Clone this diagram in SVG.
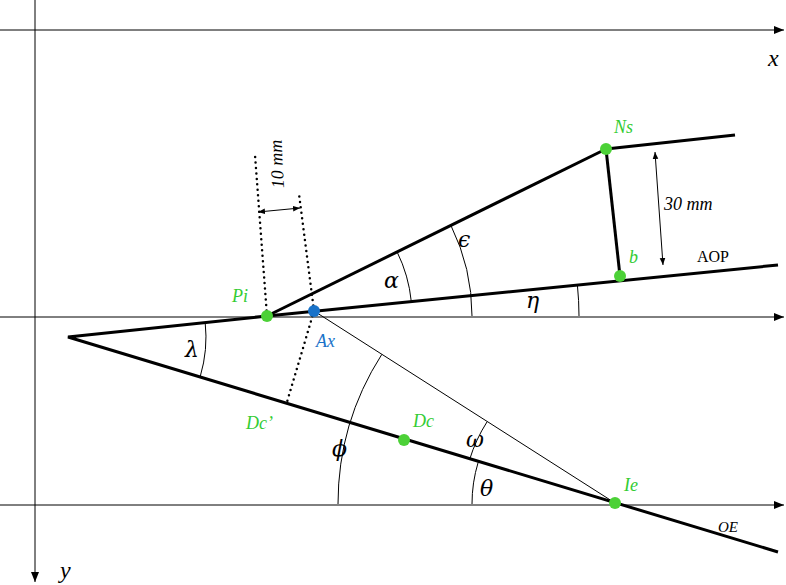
<svg xmlns="http://www.w3.org/2000/svg" width="786" height="585" viewBox="0 0 786 585">
<style>
.ax{stroke:#000;stroke-width:1;fill:none}
.th{stroke:#000;stroke-width:3;fill:none}
.tn{stroke:#000;stroke-width:1;fill:none}
.dot{stroke:#000;stroke-width:2.5;stroke-dasharray:0 5.5;stroke-linecap:round;fill:none}
.g{fill:#33cc33;font-family:'Liberation Serif',serif;font-style:italic;font-size:18px}
.gr{font-family:'DejaVu Serif',serif;font-style:italic;font-size:22px;fill:#000}
.t{font-family:'Liberation Serif',serif;font-style:italic;fill:#000}
</style>
<defs>
<marker id="ar" viewBox="0 0 10 10" refX="10" refY="5" markerWidth="10" markerHeight="10" markerUnits="userSpaceOnUse" orient="auto-start-reverse"><path d="M0,1 L10,5 L0,9 z" fill="#000"/></marker>
<marker id="sa" viewBox="0 0 10 10" refX="10" refY="5" markerWidth="7" markerHeight="7" markerUnits="userSpaceOnUse" orient="auto-start-reverse"><path d="M0,1 L10,5 L0,9 z" fill="#000"/></marker>
</defs>
<rect width="786" height="585" fill="#fff"/>
<g id="connectors">
<line class="ax" x1="0" y1="30" x2="784" y2="30" marker-end="url(#ar)"/>
<line class="ax" x1="0" y1="317" x2="784" y2="317" marker-end="url(#ar)"/>
<line class="ax" x1="0" y1="505" x2="784" y2="505" marker-end="url(#ar)"/>
<line class="ax" x1="35" y1="0" x2="35" y2="582" marker-end="url(#ar)"/>
<polyline class="th" points="267,316 68,337 778,552"/>
<line class="th" x1="267" y1="316" x2="778" y2="265"/>
<line class="th" x1="267" y1="316" x2="606" y2="149"/>
<line class="th" x1="606" y1="149" x2="735" y2="135"/>
<line class="th" x1="606" y1="149" x2="620" y2="276"/>
<line class="tn" x1="314" y1="311" x2="615" y2="503"/>
<line class="dot" x1="314" y1="311" x2="287" y2="402"/>
<line class="dot" x1="267" y1="316" x2="255" y2="155"/>
<line class="dot" x1="314" y1="311" x2="299" y2="194"/>
<line class="tn" x1="258" y1="212" x2="300" y2="208" marker-start="url(#sa)" marker-end="url(#sa)"/>
<line class="tn" x1="655" y1="152" x2="663" y2="265" marker-start="url(#sa)" marker-end="url(#sa)"/>
<path class="tn" d="M411.3 301.6 A145 145 0 0 0 397.1 251.9"/>
<path class="tn" d="M472 316 A205 205 0 0 0 450.9 225.4"/>
<path class="tn" d="M579 316 A312 312 0 0 0 577.4 285"/>
<path class="tn" d="M205.2 322.5 A138 138 0 0 1 200.3 376.2"/>
<path class="tn" d="M338 504 A277 277 0 0 1 381.8 354.4"/>
<path class="tn" d="M469.6 459.6 A152 152 0 0 1 487 421.9"/>
<path class="tn" d="M472 504 A143 143 0 0 1 478.2 462.2"/>
</g>
<g id="Pi"><circle cx="267" cy="316" r="6" fill="#4cd137"/><text class="g" x="232" y="302">Pi</text></g>
<g id="Ax"><circle cx="314" cy="311" r="6" fill="#1a73c9"/><text class="g" x="316" y="347" style="fill:#1a73c9">Ax</text></g>
<g id="Ns"><circle cx="606" cy="149" r="6" fill="#4cd137"/><text class="g" x="614" y="133">Ns</text></g>
<g id="b"><circle cx="620" cy="276" r="6" fill="#4cd137"/><text class="g" x="629" y="263">b</text></g>
<g id="Dc"><circle cx="404" cy="440" r="6" fill="#4cd137"/><text class="g" x="413" y="427">Dc</text></g>
<g id="Ie"><circle cx="615" cy="503" r="6" fill="#4cd137"/><text class="g" x="624" y="491">Ie</text></g>
<g id="Dcp"><text class="g" x="246" y="429">Dc’</text></g>
<g id="labels">
<text class="t" x="768" y="66" font-size="24">x</text>
<text class="t" x="60" y="578" font-size="24">y</text>
<text class="t" x="664" y="210" font-size="18">30 mm</text>
<text class="t" x="0" y="0" font-size="18" transform="translate(284,188) rotate(-93)">10 mm</text>
<text x="697" y="262" font-family="Liberation Serif,serif" font-size="16">AOP</text>
<text class="t" x="718" y="532" font-size="15">OE</text>
<text class="gr" x="384" y="288">α</text>
<text class="gr" x="458" y="247">ϵ</text>
<text class="gr" x="526" y="308">η</text>
<text class="gr" x="185" y="357">λ</text>
<text class="gr" x="332" y="456">ϕ</text>
<text class="gr" x="466" y="447">ω</text>
<text class="gr" x="480" y="496">θ</text>
</g>
</svg>
